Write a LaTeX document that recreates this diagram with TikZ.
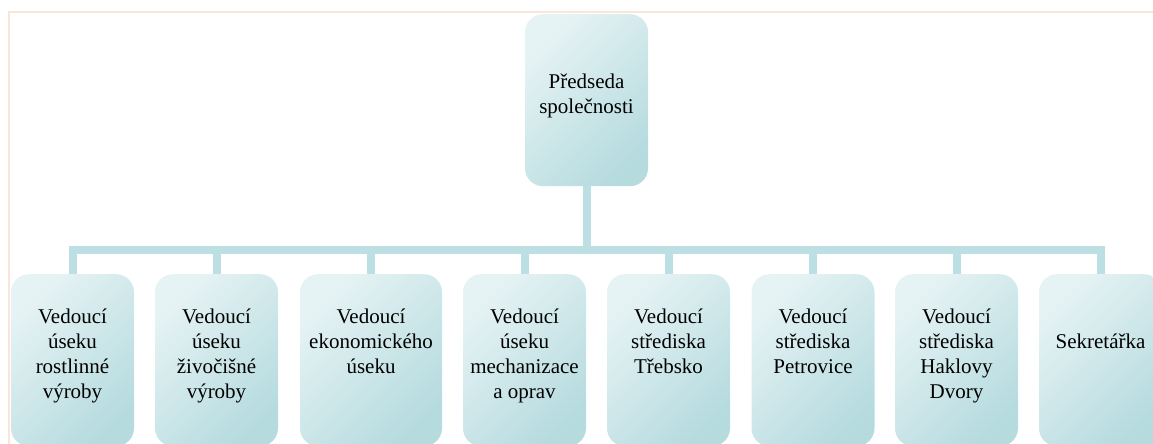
\documentclass[tikz,border=0pt]{standalone}
\usepackage{fontspec}
\setmainfont{Liberation Serif}
\usepackage{tikz}

\definecolor{boxlight}{HTML}{E6F3F4}
\definecolor{boxdark}{HTML}{B6DBDF}
\definecolor{linkcol}{HTML}{BCDFE3}
\definecolor{edge}{HTML}{FBE5D6}

% text inside a box: width, top gap, lines
\newcommand{\boxtext}[3]{\parbox[c][172pt][t]{#1}{\centering\vspace*{#2}\strut#3}}

\begin{document}
\begin{tikzpicture}[x=1pt,y=-1pt,
    box/.style={inner sep=0pt,anchor=north,rounded corners=18pt,
        top color=boxlight,bottom color=boxdark,shading angle=45,
        font=\fontsize{21}{25}\selectfont},
    link/.style={draw=linkcol,line width=8pt}]
                \useasboundingbox (0,0) rectangle (1153,444);
                \draw[draw=edge,line width=2pt] (9,444) -- (9,12) -- (1153,12);
                \node[box] (p) at (586.5,14) {\boxtext{123pt}{56.5pt}{Předseda\\společnosti}};
                \foreach \x/\w/\d/\n/\t in {72.5/123pt/31.5pt/v1/Vedoucí\\úseku\\rostlinné\\výroby,
                    216.5/123pt/31.5pt/v2/Vedoucí\\úseku\\živočišné\\výroby,
                    371/142pt/31.5pt/v3/Vedoucí\\ekonomického\\úseku,
                    524.5/123pt/31.5pt/v4/Vedoucí\\úseku\\mechanizace\\a oprav,
                    668.5/123pt/31.5pt/v5/Vedoucí\\střediska\\Třebsko,
                    813/123pt/31.5pt/v6/Vedoucí\\střediska\\Petrovice,
                    956.5/123pt/31.5pt/v7/Vedoucí\\střediska\\Haklovy\\Dvory,
                    1100.5/123pt/56.5pt/v8/Sekretářka}
                \node[box] (\n) at (\x,274) {\boxtext{\w}{\d}{\t}};
                \foreach \i in {1,...,8}
                \draw[link] (p.south) -- ++(0,64) -| (v\i.north);

            \end{tikzpicture}
\end{document}
